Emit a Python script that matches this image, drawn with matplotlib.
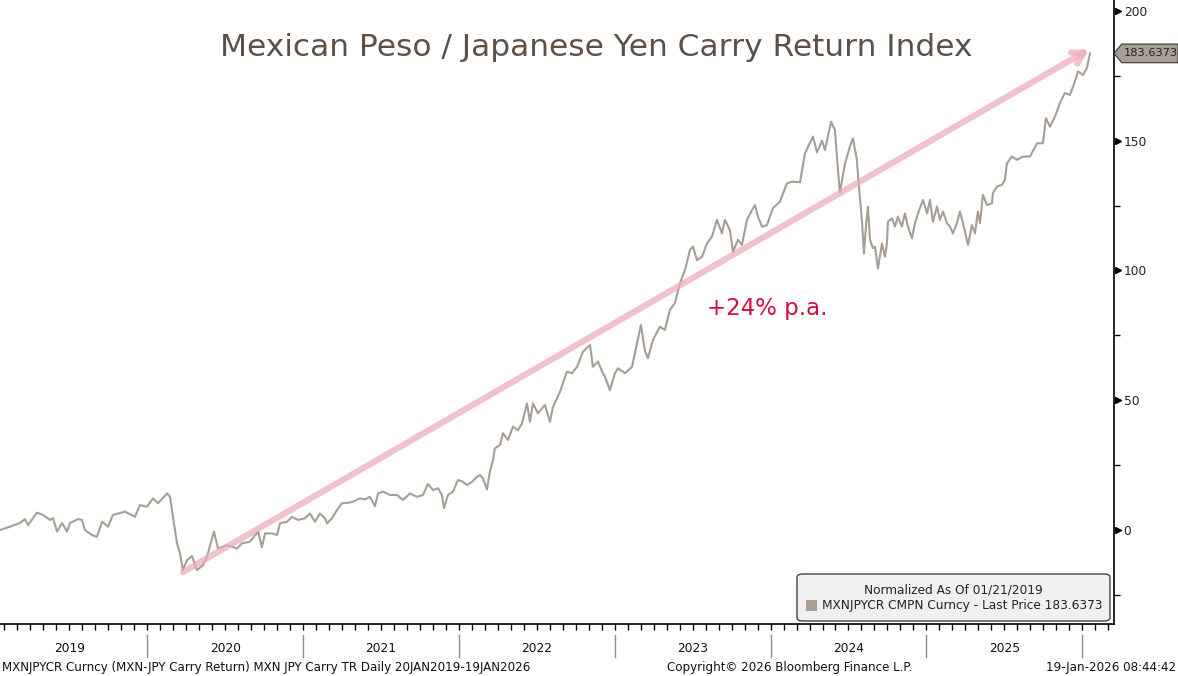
import matplotlib.pyplot as plt
import matplotlib.transforms as mtransforms
from matplotlib.patches import Polygon, FancyBboxPatch

# decimal years / index values
t_years = [2019.055, 2019.119, 2019.183, 2019.215, 2019.235, 2019.292, 2019.331, 2019.376, 2019.395, 2019.421,
           2019.453, 2019.485, 2019.504, 2019.556, 2019.581, 2019.600, 2019.645, 2019.677, 2019.710, 2019.748,
           2019.780, 2019.857, 2019.921, 2019.953, 2019.998, 2020.037, 2020.069, 2020.127, 2020.146, 2020.165,
           2020.191, 2020.210, 2020.229, 2020.255, 2020.287, 2020.319, 2020.358, 2020.383, 2020.428, 2020.454,
           2020.512, 2020.576, 2020.608, 2020.659, 2020.711, 2020.736, 2020.756, 2020.800, 2020.833, 2020.852,
           2020.897, 2020.929, 2020.967, 2021.012, 2021.044, 2021.076, 2021.108, 2021.141, 2021.153, 2021.185,
           2021.218, 2021.250, 2021.288, 2021.320, 2021.365, 2021.397, 2021.429, 2021.461, 2021.481, 2021.513,
           2021.558, 2021.603, 2021.641, 2021.686, 2021.731, 2021.769, 2021.801, 2021.834, 2021.866, 2021.891,
           2021.904, 2021.930, 2021.962, 2021.994, 2022.026, 2022.052, 2022.084, 2022.116, 2022.135, 2022.154,
           2022.180, 2022.199, 2022.219, 2022.231, 2022.264, 2022.283, 2022.315, 2022.347, 2022.379, 2022.405,
           2022.437, 2022.456, 2022.475, 2022.507, 2022.552, 2022.584, 2022.604, 2022.649, 2022.693, 2022.726,
           2022.758, 2022.796, 2022.841, 2022.860, 2022.892, 2022.924, 2022.937, 2022.969, 2023.001, 2023.021,
           2023.066, 2023.111, 2023.168, 2023.194, 2023.213, 2023.245, 2023.290, 2023.322, 2023.354, 2023.386,
           2023.419, 2023.451, 2023.483, 2023.502, 2023.528, 2023.560, 2023.592, 2023.624, 2023.656, 2023.688,
           2023.707, 2023.739, 2023.759, 2023.791, 2023.816, 2023.849, 2023.881, 2023.900, 2023.919, 2023.945,
           2023.977, 2024.015, 2024.060, 2024.105, 2024.137, 2024.189, 2024.221, 2024.272, 2024.298, 2024.330,
           2024.349, 2024.388, 2024.413, 2024.432, 2024.445, 2024.477, 2024.509, 2024.529, 2024.554, 2024.567,
           2024.586, 2024.599, 2024.612, 2024.625, 2024.638, 2024.657, 2024.670, 2024.689, 2024.715, 2024.734,
           2024.747, 2024.753, 2024.779, 2024.798, 2024.817, 2024.843, 2024.862, 2024.882, 2024.907, 2024.927,
           2024.946, 2024.978, 2025.004, 2025.023, 2025.042, 2025.068, 2025.087, 2025.106, 2025.132, 2025.151,
           2025.170, 2025.196, 2025.215, 2025.235, 2025.267, 2025.292, 2025.312, 2025.331, 2025.344, 2025.363,
           2025.389, 2025.421, 2025.427, 2025.453, 2025.485, 2025.504, 2025.517, 2025.549, 2025.581, 2025.620,
           2025.665, 2025.710, 2025.748, 2025.767, 2025.793, 2025.825, 2025.857, 2025.889, 2025.921, 2025.953,
           2025.973, 2026.005, 2026.030, 2026.050]
carry_idx = [0.0, 1.3, 2.7, 4.2, 1.9, 6.7, 5.8, 3.9, 4.6, -0.6,
             2.7, -0.6, 2.7, 4.2, 3.9, 0.0, -1.9, -2.6, 3.2, 1.3,
             5.8, 7.1, 5.1, 9.6, 9.0, 12.2, 10.3, 14.1, 12.8, 5.1,
             -5.1, -9.0, -15.4, -11.6, -10.0, -15.4, -13.5, -10.3, -0.6, -7.1,
             -5.8, -7.1, -5.1, -4.5, -0.6, -6.6, -1.3, -1.3, -1.9, 2.6,
             3.2, 5.1, 3.9, 4.5, 6.4, 3.2, 6.4, 4.5, 2.6, 4.5,
             7.7, 10.3, 10.5, 10.9, 12.2, 11.8, 12.8, 9.2, 14.1, 14.8,
             13.5, 13.5, 11.6, 14.1, 12.8, 13.5, 17.7, 15.4, 16.1, 13.5,
             8.4, 13.5, 14.8, 19.3, 18.6, 17.3, 18.6, 20.5, 21.2, 19.9,
             15.7, 22.5, 27.0, 31.5, 32.8, 37.3, 34.7, 39.8, 38.5, 41.1,
             48.8, 41.7, 48.8, 45.0, 48.2, 41.7, 47.5, 53.3, 61.0, 60.4,
             62.9, 68.7, 71.3, 62.9, 64.9, 60.4, 59.1, 53.9, 60.4, 62.3,
             60.4, 62.9, 79.0, 69.0, 66.2, 73.2, 78.3, 77.1, 84.8, 87.4,
             95.1, 100.2, 107.9, 109.2, 104.0, 105.3, 110.4, 113.1, 119.5, 114.3,
             119.5, 115.6, 107.2, 111.8, 109.8, 119.5, 123.3, 125.2, 120.7, 116.9,
             117.5, 124.0, 126.5, 133.6, 134.2, 134.0, 145.2, 151.6, 145.5, 150.0,
             146.4, 157.3, 154.1, 139.0, 130.0, 141.0, 147.7, 150.9, 142.6, 132.3,
             119.5, 106.6, 116.9, 124.6, 111.8, 108.6, 109.2, 100.8, 110.4, 105.3,
             110.4, 118.8, 120.1, 116.9, 120.7, 116.9, 122.0, 116.9, 112.4, 118.2,
             122.0, 127.2, 122.0, 127.2, 118.8, 124.6, 119.5, 122.7, 118.2, 116.9,
             114.3, 118.2, 122.7, 118.2, 109.8, 117.5, 114.3, 122.7, 118.2, 129.1,
             125.2, 125.9, 129.8, 132.3, 133.0, 134.9, 141.3, 143.9, 142.6, 143.9,
             143.9, 149.0, 149.0, 158.7, 155.4, 159.3, 164.5, 168.4, 167.6, 172.8,
             176.7, 175.3, 177.9, 183.6373]
last_price = 183.6373
year_labels = [2019, 2020, 2021, 2022, 2023, 2024, 2025]
y_major = [0, 50, 100, 150, 200]
y_minor = [-25, 25, 75, 125, 175]

line_col = '#a89e94'
W, H = 1178, 676
fig = plt.figure(figsize=(W / 100, H / 100), dpi=100)
ax = fig.add_axes([0, 52 / H, 1114 / W, 624 / H])
ax.plot(t_years, carry_idx, color=line_col, lw=1.5, zorder=3)
ax.set_xlim(2019.055, 2026.204)
ax.set_ylim(-36.2, 204.2)

for s in ['top', 'left']:
    ax.spines[s].set_visible(False)
ax.spines['bottom'].set_linewidth(1.2)
ax.spines['right'].set_linewidth(1.2)

# y axis on the right
ax.yaxis.tick_right()
ax.set_yticks(y_major)
ax.set_yticks(y_minor, minor=True)
ax.tick_params(axis='y', which='major', length=0, pad=7, labelsize=8.8, labelcolor='#222')
ax.tick_params(axis='y', which='minor', length=4, width=1, direction='out')
tri = mtransforms.blended_transform_factory(ax.transAxes, ax.transData)
ax.plot([1.0035] * len(y_major), y_major, linestyle='none', marker='>', ms=5,
        color='black', transform=tri, clip_on=False)

# monthly ticks on x
months = [y + m / 12 for y in range(2019, 2027) for m in range(12)]
months = [m for m in months if 2019.055 < m < 2026.2]
ax.set_xticks([])
ax.set_xticks(months, minor=True)
ax.tick_params(axis='x', which='minor', length=4, width=1, direction='out')

bt = mtransforms.blended_transform_factory(ax.transData, ax.transAxes)
for y in year_labels:
    ax.text(y + 0.5, -0.040, str(y), transform=bt, ha='center', va='center', fontsize=8.8, color='#111')
for y in range(2020, 2027):
    ax.plot([y, y], [-0.0178, -0.053], color='#8a8a8a', lw=1, transform=bt, clip_on=False)

# trend arrow
ax.annotate('', xy=(2026.045, 185.2), xytext=(2020.229, -16.2),
            arrowprops=dict(arrowstyle='->,head_length=0.8,head_width=0.45', lw=4.5,
                            color='#eeaabb', alpha=0.72, shrinkA=0, shrinkB=0), zorder=4)
ax.text(2023.98, 85.5, '+24% p.a.', color='#d0103a', fontsize=16.5, ha='center', va='center')
ax.text(2022.88, 186, 'Mexican Peso / Japanese Yen Carry Return Index', color='#5e5046',
        fontsize=22.5, ha='center', va='center')

# last price tag
tag = Polygon([(1.0, last_price), (1.007, last_price + 3.6), (1.0575, last_price + 3.6),
               (1.0575, last_price - 3.6), (1.007, last_price - 3.6)], closed=True,
              facecolor=line_col, edgecolor='#333', lw=0.8, transform=tri, clip_on=False, zorder=5)
ax.add_patch(tag)
ax.text(1.033, last_price, f'{last_price:.4f}', transform=tri, ha='center', va='center',
        fontsize=8.2, color='#222', zorder=6)

# legend box
box = FancyBboxPatch((797 / W, 1 - 621 / H), 313 / W, 47 / H,
                     boxstyle='round,pad=0,rounding_size=0.005', transform=fig.transFigure,
                     facecolor='#f0f0f0', edgecolor='#444', lw=1, zorder=6)
fig.patches.append(box)
fig.text(953 / W, 1 - 590 / H, 'Normalized As Of 01/21/2019', ha='center', va='center',
         fontsize=8.7, color='#222', zorder=7)
fig.patches.append(FancyBboxPatch((806 / W, 1 - 611 / H), 11 / W, 11 / H, boxstyle='square,pad=0',
                                  transform=fig.transFigure, facecolor=line_col, edgecolor='none', zorder=7))
fig.text(822 / W, 1 - 605 / H, 'MXNJPYCR CMPN Curncy - Last Price 183.6373', ha='left', va='center',
         fontsize=8.7, color='#222', zorder=7)

# footer
fig.text(2 / W, 1 - 667 / H, 'MXNJPYCR Curncy (MXN-JPY Carry Return) MXN JPY Carry TR Daily 20JAN2019-19JAN2026',
         ha='left', va='center', fontsize=8.6, color='#111')
fig.text(790 / W, 1 - 667 / H, 'Copyright\u00a9 2026 Bloomberg Finance L.P.', ha='center', va='center',
         fontsize=8.6, color='#111')
fig.text(1176 / W, 1 - 667 / H, '19-Jan-2026 08:44:42', ha='right', va='center', fontsize=8.6, color='#111')

fig.savefig('out.png', dpi=100)
